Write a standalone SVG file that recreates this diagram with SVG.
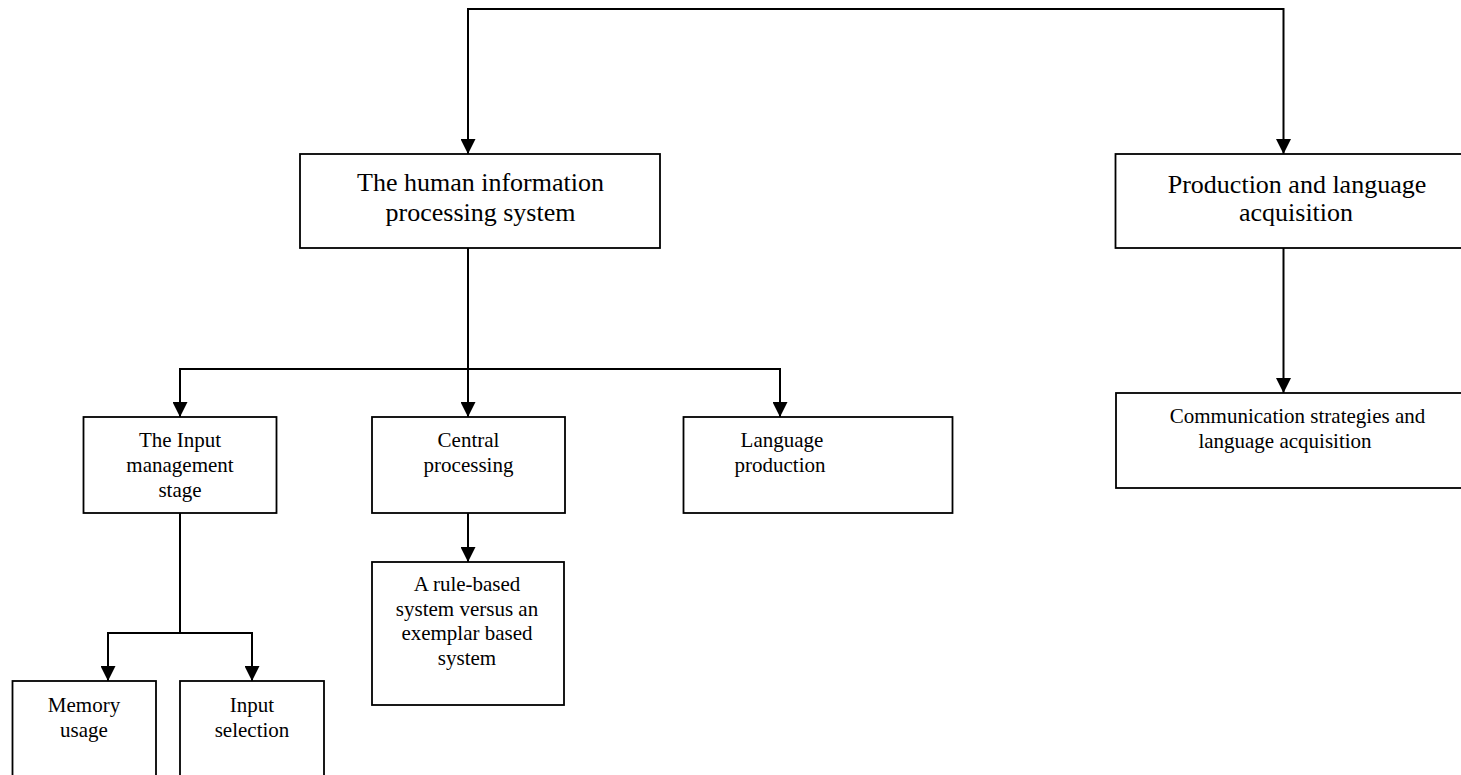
<svg xmlns="http://www.w3.org/2000/svg" width="1461" height="775" viewBox="0 0 1461 775">
<style>
.box{fill:#fff;stroke:#000;stroke-width:1.8}
.ln{fill:none;stroke:#000;stroke-width:2}
.big{font-family:"Liberation Serif","Times New Roman",serif;font-size:26px;fill:#000;text-anchor:middle}
.sm{font-family:"Liberation Serif","Times New Roman",serif;font-size:21px;fill:#000;text-anchor:middle}
</style>
<defs>
<marker id="arr" markerUnits="userSpaceOnUse" markerWidth="16" markerHeight="15" viewBox="0 0 16 15" refX="15" refY="7.5" orient="auto">
<path d="M0,0 L15,7.5 L0,15 z" fill="#000"/>
</marker>
</defs>
<rect width="1461" height="775" fill="#fff"/>
<g id="connectors">
<path class="ln" d="M468,154 V9 H1283.5 V154" marker-end="url(#arr)"/>
<path class="ln" d="M468,9 V154" marker-end="url(#arr)"/>
<path class="ln" d="M468,248 V369"/>
<path class="ln" d="M180,417 V369 H780 V417" marker-end="url(#arr)"/>
<path class="ln" d="M180,369 V417" marker-end="url(#arr)"/>
<path class="ln" d="M468,369 V417" marker-end="url(#arr)"/>
<path class="ln" d="M468,513 V562" marker-end="url(#arr)"/>
<path class="ln" d="M180,513 V633"/>
<path class="ln" d="M108,681 V633 H252 V681" marker-end="url(#arr)"/>
<path class="ln" d="M108,633 V681" marker-end="url(#arr)"/>
<path class="ln" d="M1283.5,248 V393" marker-end="url(#arr)"/>
</g>
<g id="n-human">
<rect class="box" x="300" y="154" width="360" height="94"/>
<text class="big" x="480.5" y="191">The human information</text>
<text class="big" x="480.5" y="221">processing system</text>
</g>
<g id="n-production">
<rect class="box" x="1115.5" y="154" width="370" height="94"/>
<text class="big" x="1297" y="193">Production and language</text>
<text class="big" x="1296" y="221">acquisition</text>
</g>
<g id="n-input">
<rect class="box" x="83.5" y="417" width="193" height="96"/>
<text class="sm" x="180" y="447">The Input</text>
<text class="sm" x="180" y="472">management</text>
<text class="sm" x="180" y="497">stage</text>
</g>
<g id="n-central">
<rect class="box" x="372" y="417" width="193" height="96"/>
<text class="sm" x="468.5" y="447">Central</text>
<text class="sm" x="468.5" y="472">processing</text>
</g>
<g id="n-langprod">
<rect class="box" x="683.5" y="417" width="269" height="96"/>
<text class="sm" x="782" y="447">Language</text>
<text class="sm" x="780" y="472">production</text>
</g>
<g id="n-rule">
<rect class="box" x="372" y="562" width="192" height="143"/>
<text class="sm" x="467" y="591">A rule-based</text>
<text class="sm" x="467" y="615.5">system versus an</text>
<text class="sm" x="467" y="640">exemplar based</text>
<text class="sm" x="467" y="664.5">system</text>
</g>
<g id="n-memory">
<rect class="box" x="12.5" y="681" width="143.5" height="110"/>
<text class="sm" x="84" y="711.5">Memory</text>
<text class="sm" x="84" y="736.5">usage</text>
</g>
<g id="n-selection">
<rect class="box" x="180" y="681" width="144" height="110"/>
<text class="sm" x="252" y="711.5">Input</text>
<text class="sm" x="252" y="736.5">selection</text>
</g>
<g id="n-comm">
<rect class="box" x="1116" y="393" width="370" height="95"/>
<text class="sm" x="1297.5" y="423">Communication strategies and</text>
<text class="sm" x="1285" y="448">language acquisition</text>
</g>
</svg>
